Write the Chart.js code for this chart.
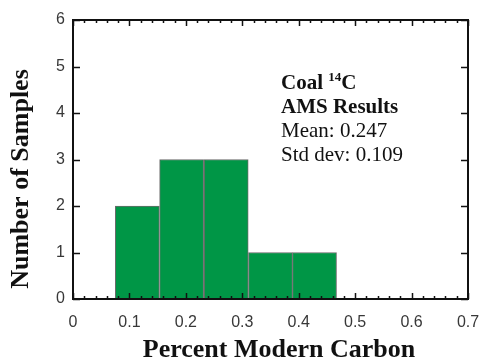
<!DOCTYPE html>
<html>
<head>
<meta charset="utf-8">
<script src="https://cdn.jsdelivr.net/npm/chart.js@4"></script>
<style>
  html, body { margin: 0; padding: 0; background: #fff; }
  #wrap { width: 483px; height: 361px; }
</style>
</head>
<body>
<div id="wrap"><canvas id="histChart" width="483" height="361"></canvas></div>
<script>
  // histogram bins (percent modern carbon) and counts
  const binEdges = [0.075, 0.153, 0.232, 0.311, 0.389, 0.467];
  const sampleCounts = [2, 3, 3, 1, 1];
  const xTickLabels = ['0', '0.1', '0.2', '0.3', '0.4', '0.5', '0.6', '0.7'];
  const yTickLabels = ['0', '1', '2', '3', '4', '5', '6'];
  const noteLines = ['AMS Results', 'Mean: 0.247', 'Std dev: 0.109'];

  const binCenters = sampleCounts.map((c, i) => (binEdges[i] + binEdges[i + 1]) / 2);

  // frame, inward ticks, axis titles and the text box
  const framePlugin = {
    id: 'frame',
    afterDraw(chart) {
      const { ctx, chartArea: a, scales } = chart;
      const xs = scales.x, ys = scales.y;
      ctx.save();
      ctx.strokeStyle = '#111';
      ctx.lineWidth = 1.5;
      // minor/major ticks on x (top and bottom)
      for (let i = 0; i <= 35; i++) {
        const px = Math.round(xs.getPixelForValue(i * 0.02)) + 0.5;
        const len = i % 5 === 0 ? 6 : 3;
        ctx.beginPath();
        ctx.moveTo(px, a.bottom); ctx.lineTo(px, a.bottom - len);
        ctx.moveTo(px, a.top); ctx.lineTo(px, a.top + len);
        ctx.stroke();
      }
      for (let v = 0; v <= 6; v++) {
        const py = Math.round(ys.getPixelForValue(v)) + 0.5;
        ctx.beginPath();
        ctx.moveTo(a.left, py); ctx.lineTo(a.left + 7, py);
        ctx.moveTo(a.right, py); ctx.lineTo(a.right - 7, py);
        ctx.stroke();
      }
      ctx.lineWidth = 2;
      ctx.strokeRect(a.left, a.top, a.right - a.left, a.bottom - a.top);

      // axis titles
      ctx.fillStyle = '#111';
      ctx.font = 'bold 26px "Liberation Serif", "Times New Roman", serif';
      ctx.textAlign = 'center';
      ctx.textBaseline = 'alphabetic';
      ctx.fillText('Percent Modern Carbon', 279, 357);
      ctx.save();
      ctx.translate(28, 179);
      ctx.rotate(-Math.PI / 2);
      ctx.fillText('Number of Samples', 0, 0);
      ctx.restore();

      // text box
      const tx = 281;
      ctx.textAlign = 'left';
      ctx.font = 'bold 21px "Liberation Serif", "Times New Roman", serif';
      let x = tx;
      ctx.fillText('Coal ', x, 89);
      x += ctx.measureText('Coal ').width;
      ctx.font = 'bold 13px "Liberation Serif", "Times New Roman", serif';
      ctx.fillText('14', x, 81);
      x += ctx.measureText('14').width;
      ctx.font = 'bold 21px "Liberation Serif", "Times New Roman", serif';
      ctx.fillText('C', x, 89);
      ctx.fillText(noteLines[0], tx, 113);
      ctx.font = '21px "Liberation Serif", "Times New Roman", serif';
      ctx.fillText(noteLines[1], tx, 137);
      ctx.fillText(noteLines[2], tx, 161);
      ctx.restore();
    }
  };

  const tickFont = { family: '"Liberation Sans", Arial, sans-serif', size: 16 };

  new Chart(document.getElementById('histChart'), {
    type: 'bar',
    data: {
      datasets: [{
        data: binCenters.map((c, i) => ({ x: c, y: sampleCounts[i] })),
        backgroundColor: '#009646',
        borderColor: '#6b6b6b',
        borderWidth: 1,
        barPercentage: 1,
        categoryPercentage: 1
      }]
    },
    options: {
      responsive: false,
      animation: false,
      layout: { padding: { left: 0, top: 20, right: 15, bottom: 0 } },
      plugins: { legend: { display: false }, tooltip: { enabled: false } },
      scales: {
        x: {
          type: 'linear',
          offset: false,
          min: 0, max: 0.7,
          grid: { display: false, drawTicks: false, offset: false },
          border: { display: false },
          afterFit: s => { s.height = 62; s.paddingLeft = 0; s.paddingRight = 0; },
          ticks: {
            stepSize: 0.1,
            padding: 14,
            color: '#383838',
            font: tickFont,
            callback: (v, i) => xTickLabels[i]
          }
        },
        y: {
          min: 0, max: 6,
          grid: { display: false, drawTicks: false },
          border: { display: false },
          afterFit: s => { s.width = 73; s.paddingTop = 0; s.paddingBottom = 0; },
          ticks: {
            stepSize: 1,
            padding: 8,
            color: '#383838',
            font: tickFont,
            callback: (v, i) => yTickLabels[i]
          }
        }
      }
    },
    plugins: [framePlugin]
  });
</script>
</body>
</html>
